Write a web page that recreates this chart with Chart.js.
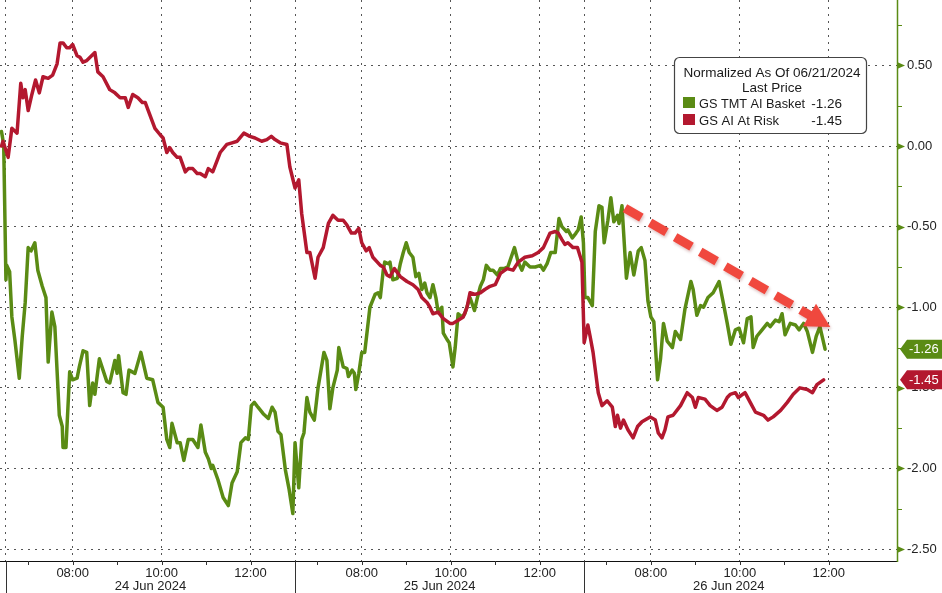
<!DOCTYPE html>
<html><head><meta charset="utf-8">
<script src="https://cdn.jsdelivr.net/npm/chart.js@4.4.1/dist/chart.umd.min.js"></script>
<style>html,body{margin:0;padding:0;background:#fff;overflow:hidden}#wrap{width:942px;height:593px;position:relative}</style>
</head><body><div id="wrap"><canvas id="c" width="942" height="593"></canvas></div>
<script>
// ---- data ----
const dayLabels = ['24 Jun 2024', '25 Jun 2024', '26 Jun 2024'];
const sessionOpen = '06:30';
const sessionLength = 390; // minutes per session (06:30 - 13:00)
const hourTickLabels = ['08:00', '10:00', '12:00'];
const yTicks = [-2.5, -2, -1.5, -1, -0.5, 0, 0.5];
const seriesNames = ['GS TMT AI Basket', 'GS AI At Risk'];
const lastValues = [-1.26, -1.45];
const legendTitle = ['Normalized As Of 06/21/2024', 'Last Price'];

// x = minutes since 24 Jun 06:30, sessions placed back to back
const tmtMinutes = [-6,-3,0,1,5,8,12,18,22,26,30,34,39,43,49,54,57,62,66,72,76,77,81,86,90,96,99,104,109,113,117,120,126,136,140,147,150,152,158,162,166,174,182,190,198,205,212,217,221,224,231,235,240,246,252,259,263,269,273,277,279,286,293,300,305,312,317,323,327,331,335,340,347,354,359,363,367,371,377,382,387,390,395,399,402,406,410,416,421,429,433,437,441,447,449,455,460,462,467,470,472,476,480,484,487,491,498,502,505,509,511,516,518,522,528,532,536,540,544,549,553,557,561,565,568,572,576,580,583,588,590,595,598,603,606,610,615,619,626,632,636,640,644,648,653,657,663,667,672,677,686,691,696,700,707,714,721,725,730,735,741,746,750,756,758,764,769,772,776,779,781,785,791,795,800,804,807,812,816,820,825,827,831,837,842,847,853,857,862,866,870,874,879,883,887,892,899,903,910,916,924,927,932,937,941,947,954,962,968,973,978,984,989,995,1000,1005,1008,1013,1020,1027,1031,1038,1043,1047,1051,1058,1065,1070,1076,1081,1088,1093,1098,1105];
const tmtValues = [0.09,0.01,-0.83,-0.74,-0.78,-1.06,-1.20,-1.44,-1.18,-0.97,-0.63,-0.65,-0.60,-0.77,-0.87,-0.94,-1.34,-1.03,-1.12,-1.67,-1.74,-1.87,-1.87,-1.40,-1.45,-1.44,-1.37,-1.27,-1.28,-1.61,-1.47,-1.54,-1.32,-1.46,-1.47,-1.33,-1.41,-1.30,-1.53,-1.54,-1.39,-1.41,-1.28,-1.44,-1.45,-1.59,-1.62,-1.82,-1.87,-1.72,-1.84,-1.84,-1.95,-1.82,-1.82,-1.87,-1.73,-1.90,-1.94,-2.00,-1.98,-2.07,-2.18,-2.23,-2.09,-2.02,-1.84,-1.81,-1.82,-1.61,-1.59,-1.62,-1.66,-1.69,-1.62,-1.65,-1.77,-1.79,-2.01,-2.13,-2.28,-1.84,-2.12,-1.82,-1.78,-1.56,-1.65,-1.70,-1.50,-1.28,-1.33,-1.63,-1.50,-1.39,-1.25,-1.37,-1.38,-1.43,-1.39,-1.41,-1.51,-1.41,-1.28,-1.28,-1.16,-1.00,-0.92,-0.91,-0.94,-0.77,-0.72,-0.73,-0.72,-0.83,-0.82,-0.73,-0.66,-0.60,-0.66,-0.69,-0.81,-0.79,-0.89,-0.85,-0.91,-0.94,-0.86,-0.94,-1.03,-1.00,-1.16,-1.20,-1.22,-1.37,-1.25,-1.04,-1.06,-1.04,-0.94,-1.02,-0.94,-0.87,-0.83,-0.74,-0.77,-0.77,-0.80,-0.76,-0.76,-0.75,-0.63,-0.72,-0.77,-0.72,-0.75,-0.75,-0.74,-0.77,-0.73,-0.66,-0.66,-0.45,-0.50,-0.53,-0.52,-0.57,-0.54,-0.52,-0.44,-0.60,-0.94,-0.94,-0.99,-0.53,-0.37,-0.38,-0.60,-0.46,-0.32,-0.47,-0.43,-0.48,-0.37,-0.82,-0.66,-0.80,-0.65,-0.63,-0.71,-0.96,-1.06,-1.09,-1.45,-1.32,-1.10,-1.21,-1.25,-1.15,-1.20,-1.01,-0.84,-0.89,-1.05,-0.99,-1.00,-0.94,-0.91,-0.84,-0.98,-1.10,-1.23,-1.14,-1.13,-1.22,-1.07,-1.06,-1.25,-1.18,-1.14,-1.10,-1.12,-1.08,-1.09,-1.04,-1.17,-1.10,-1.11,-1.14,-1.10,-1.15,-1.28,-1.18,-1.12,-1.26];

const riskMinutes = [-6,-4,3,8,15,20,23,26,30,35,40,45,50,57,63,69,73,77,82,86,90,96,100,104,109,120,124,131,140,147,154,161,165,171,178,184,188,192,201,208,212,217,221,225,231,235,242,246,252,258,262,269,273,279,289,298,305,312,321,329,336,345,352,358,363,370,379,383,390,395,399,406,410,417,421,428,435,441,448,455,460,466,471,476,480,486,490,495,505,509,514,518,524,532,541,549,556,561,568,572,576,583,590,599,603,610,617,622,626,633,640,646,653,660,667,676,684,691,700,710,718,725,734,741,745,750,754,758,765,771,775,777,780,785,788,792,799,804,811,818,822,825,829,833,839,846,852,858,869,876,880,885,889,893,900,910,919,926,930,934,943,950,959,966,973,977,984,988,997,1004,1011,1022,1028,1035,1045,1054,1062,1071,1081,1088,1094,1103];
const riskValues = [0.00,0.03,-0.07,0.11,0.08,0.39,0.30,0.35,0.22,0.32,0.41,0.33,0.43,0.42,0.44,0.51,0.64,0.64,0.61,0.61,0.63,0.56,0.55,0.52,0.53,0.58,0.46,0.43,0.35,0.33,0.30,0.30,0.24,0.32,0.30,0.27,0.27,0.22,0.11,0.07,0.05,-0.04,-0.01,-0.04,-0.07,-0.07,-0.16,-0.14,-0.14,-0.17,-0.17,-0.19,-0.14,-0.16,-0.04,0.01,0.02,0.03,0.08,0.06,0.05,0.03,0.04,0.06,0.04,0.02,0.01,-0.13,-0.26,-0.21,-0.42,-0.66,-0.66,-0.82,-0.69,-0.63,-0.48,-0.43,-0.46,-0.46,-0.49,-0.54,-0.54,-0.51,-0.60,-0.65,-0.63,-0.69,-0.74,-0.75,-0.80,-0.81,-0.76,-0.81,-0.84,-0.86,-0.89,-0.94,-0.97,-1.00,-1.04,-1.03,-1.07,-1.10,-1.10,-1.08,-1.06,-1.00,-0.91,-0.92,-0.91,-0.89,-0.87,-0.86,-0.79,-0.76,-0.77,-0.72,-0.69,-0.68,-0.66,-0.63,-0.54,-0.53,-0.54,-0.58,-0.61,-0.60,-0.63,-0.63,-0.69,-0.72,-1.22,-1.11,-1.18,-1.28,-1.53,-1.61,-1.58,-1.62,-1.74,-1.67,-1.75,-1.70,-1.76,-1.81,-1.74,-1.71,-1.68,-1.70,-1.78,-1.81,-1.76,-1.68,-1.67,-1.61,-1.53,-1.56,-1.62,-1.56,-1.57,-1.61,-1.64,-1.62,-1.56,-1.54,-1.53,-1.56,-1.53,-1.59,-1.65,-1.67,-1.70,-1.68,-1.64,-1.59,-1.54,-1.50,-1.51,-1.53,-1.48,-1.45];

// trend annotation (x in session minutes, y in value)
const trendArrowFrom = [835, -0.385];
const trendArrowTo = [1112, -1.123];

// ---- helpers ----
const GREEN = '#5a8b14', RED = '#b3182f';
const FONT = "'Liberation Sans', Arial, sans-serif";
const hm = s => { const [h, m] = s.split(':').map(Number); return h * 60 + m; };
const openMin = hm(sessionOpen);
const pad2 = n => String(n).padStart(2, '0');
const xTickValues = [];
dayLabels.forEach((d, i) => {
  xTickValues.push(i * sessionLength);
  hourTickLabels.forEach(t => xTickValues.push(i * sessionLength + hm(t) - openMin));
});

const decor = {
  id: 'decor',
  afterDatasetsDraw(chart) {
    const {ctx, scales: {x, y}} = chart;
    const x1 = x.getPixelForValue(trendArrowFrom[0]), y1 = y.getPixelForValue(trendArrowFrom[1]);
    const x2 = x.getPixelForValue(trendArrowTo[0]), y2 = y.getPixelForValue(trendArrowTo[1]);
    const dx = x2 - x1, dy = y2 - y1, L = Math.hypot(dx, dy), ux = dx / L, uy = dy / L;
    const headLen = 24, headHalf = 13;
    const bx = x2 - ux * headLen, by = y2 - uy * headLen;
    ctx.save();
    ctx.shadowColor = 'rgba(120,0,0,0.25)'; ctx.shadowBlur = 3; ctx.shadowOffsetX = 1; ctx.shadowOffsetY = 2;
    ctx.strokeStyle = '#f0483e'; ctx.fillStyle = '#f0483e';
    ctx.lineWidth = 9; ctx.setLineDash([19, 10]);
    ctx.beginPath(); ctx.moveTo(x1, y1); ctx.lineTo(bx + ux * 2, by + uy * 2); ctx.stroke();
    ctx.setLineDash([]);
    ctx.beginPath();
    ctx.moveTo(x2, y2);
    ctx.lineTo(bx - uy * headHalf, by + ux * headHalf);
    ctx.lineTo(bx + uy * headHalf, by - ux * headHalf);
    ctx.closePath(); ctx.fill();
    ctx.restore();
  },
  afterDraw(chart) {
    const {ctx, chartArea: ca, scales: {x, y}} = chart;
    ctx.save();
    // x axis line
    ctx.strokeStyle = '#111'; ctx.lineWidth = 1;
    ctx.beginPath(); ctx.moveTo(0, ca.bottom + 0.5); ctx.lineTo(ca.right, ca.bottom + 0.5); ctx.stroke();
    // hourly minor ticks and session separators
    ctx.strokeStyle = '#333';
    dayLabels.forEach((d, i) => {
      for (let h = 7; h <= 12; h++) {
        const px = Math.round(x.getPixelForValue(i * sessionLength + h * 60 - openMin)) + 0.5;
        ctx.beginPath(); ctx.moveTo(px, ca.bottom); ctx.lineTo(px, ca.bottom + 4); ctx.stroke();
      }
      const sx = Math.round(x.getPixelForValue(i * sessionLength)) + 0.5;
      ctx.beginPath(); ctx.moveTo(sx, ca.bottom); ctx.lineTo(sx, chart.height); ctx.stroke();
    });
    // day labels
    ctx.fillStyle = '#222'; ctx.font = '13px ' + FONT; ctx.textAlign = 'center'; ctx.textBaseline = 'middle';
    dayLabels.forEach((d, i) => ctx.fillText(d, x.getPixelForValue(i * sessionLength + sessionLength / 2), 586));
    // y axis line
    ctx.strokeStyle = GREEN; ctx.lineWidth = 1.5;
    ctx.beginPath(); ctx.moveTo(ca.right + 0.5, 0); ctx.lineTo(ca.right + 0.5, ca.bottom + 1); ctx.stroke();
    // y axis markers
    ctx.fillStyle = GREEN; ctx.lineWidth = 1;
    yTicks.forEach(v => {
      const py = Math.round(y.getPixelForValue(v)) + 0.5;
      ctx.beginPath(); ctx.moveTo(ca.right, py - 3.5); ctx.lineTo(ca.right + 8, py); ctx.lineTo(ca.right, py + 3.5); ctx.closePath(); ctx.fill();
      [0.25, -0.25].forEach(o => {
        const m = v + o;
        if (m > y.min && m < y.max) {
          const my = Math.round(y.getPixelForValue(m)) + 0.5;
          ctx.beginPath(); ctx.moveTo(ca.right, my); ctx.lineTo(ca.right + 5, my); ctx.stroke();
        }
      });
    });
    // last value tags
    const tagCols = [GREEN, RED];
    lastValues.forEach((v, i) => {
      const py = y.getPixelForValue(v), x0 = ca.right + 3, tip = 7, h = 19;
      ctx.fillStyle = tagCols[i];
      ctx.beginPath(); ctx.moveTo(x0, py); ctx.lineTo(x0 + tip, py - h / 2); ctx.lineTo(chart.width, py - h / 2);
      ctx.lineTo(chart.width, py + h / 2); ctx.lineTo(x0 + tip, py + h / 2); ctx.closePath(); ctx.fill();
      ctx.fillStyle = '#fff'; ctx.font = '13px ' + FONT; ctx.textAlign = 'left'; ctx.textBaseline = 'middle';
      ctx.fillText(v.toFixed(2), x0 + tip + 2, py + 0.5);
    });
    // legend box
    const lx = 674, ly = 57, lw = 192, lh = 76;
    ctx.fillStyle = '#fff'; ctx.strokeStyle = '#444'; ctx.lineWidth = 1.2;
    ctx.beginPath(); ctx.roundRect(lx + 0.5, ly + 0.5, lw, lh, 5); ctx.fill(); ctx.stroke();
    ctx.fillStyle = '#1a1a1a'; ctx.font = '13.5px ' + FONT; ctx.textAlign = 'center'; ctx.textBaseline = 'alphabetic';
    ctx.fillText(legendTitle[0], lx + lw / 2 + 2, ly + 20, 180);
    ctx.fillText(legendTitle[1], lx + lw / 2 + 2, ly + 35);
    seriesNames.forEach((n, i) => {
      const by = ly + 40 + i * 17;
      ctx.fillStyle = tagCols[i]; ctx.fillRect(lx + 9, by, 12, 11);
      ctx.fillStyle = '#1a1a1a'; ctx.textAlign = 'left';
      ctx.fillText(n, lx + 25, by + 11, n.length > 14 ? 106 : 80);
      ctx.textAlign = 'right';
      ctx.fillText(lastValues[i].toFixed(2), lx + 168, by + 11);
    });
    ctx.restore();
  }
};

new Chart(document.getElementById('c'), {
  type: 'line',
  data: {
    datasets: [
      {label: seriesNames[0], data: tmtMinutes.map((m, i) => ({x: m, y: tmtValues[i]})),
       borderColor: GREEN, borderWidth: 3.5, pointRadius: 0, tension: 0, order: 1,
       borderJoinStyle: 'round', borderCapStyle: 'round'},
      {label: seriesNames[1], data: riskMinutes.map((m, i) => ({x: m, y: riskValues[i]})),
       borderColor: RED, borderWidth: 3.5, pointRadius: 0, tension: 0, order: 0,
       borderJoinStyle: 'round', borderCapStyle: 'round'}
    ]
  },
  options: {
    responsive: false, animation: false, devicePixelRatio: 1,
    layout: {padding: 0, autoPadding: false},
    plugins: {legend: {display: false}, tooltip: {enabled: false}},
    scales: {
      x: {
        type: 'linear', min: -8, max: 1202,
        afterBuildTicks: s => { s.ticks = xTickValues.map(v => ({value: v})); },
        afterFit: s => { s.height = 32; s.paddingLeft = 0; s.paddingRight = 0; s.paddingTop = 0; s.paddingBottom = 0; },
        grid: {color: '#555', lineWidth: 1, drawTicks: false},
        border: {display: false, dash: [2, 5]},
        ticks: {autoSkip: false, maxRotation: 0, padding: 5, color: '#222', font: {family: FONT, size: 13},
          callback: v => {
            const t = ((v % sessionLength) + sessionLength) % sessionLength;
            if (t === 0) return '';
            const mm = openMin + t;
            return pad2(Math.floor(mm / 60)) + ':' + pad2(mm % 60);
          }}
      },
      y: {
        type: 'linear', position: 'right', min: -2.574, max: 0.906,
        afterBuildTicks: s => { s.ticks = yTicks.map(v => ({value: v})); },
        afterFit: s => { s.width = 45; s.paddingTop = 0; s.paddingBottom = 0; s.paddingLeft = 0; s.paddingRight = 0; },
        grid: {color: '#555', lineWidth: 1, drawTicks: false},
        border: {display: false, dash: [2, 5]},
        ticks: {padding: 10, color: '#222', font: {family: FONT, size: 13}, callback: v => v.toFixed(2)}
      }
    }
  },
  plugins: [decor]
});
</script>
</body></html>
